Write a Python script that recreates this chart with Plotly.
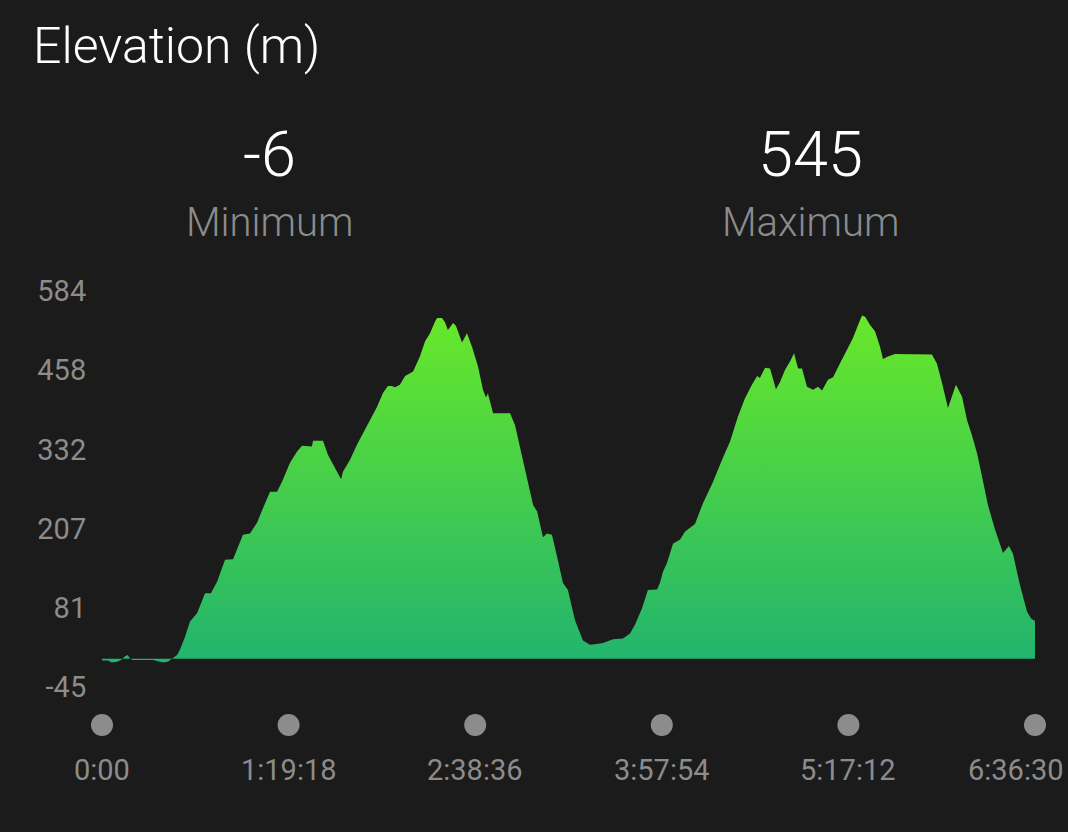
import plotly.graph_objects as go

# ---- data (elapsed time in minutes, elevation in metres) ----
time_min = [0.0, 2.5, 4.2, 6.4, 8.1, 9.8, 11.0, 11.9, 13.2, 21.7, 23.8, 25.9, 28.0, 29.7,
            31.9, 33.1, 35.3, 37.4, 40.4, 43.8, 46.3, 48.9, 52.3, 55.7, 57.4, 59.9, 62.9,
            65.9, 68.4, 71.4, 74.4, 76.5, 79.9, 82.9, 85.0, 89.2, 89.7, 93.9, 96.0, 99.9,
            101.6, 102.4, 105.4, 108.4, 112.6, 116.9, 119.4, 121.5, 123.2, 124.5, 126.6,
            128.8, 132.2, 135.1, 137.3, 139.4, 141.5, 142.4, 144.5, 145.8, 147.0, 149.2,
            150.4, 153.0, 155.1, 157.2, 159.8, 161.9, 163.2, 164.0, 166.2, 170.0, 173.4,
            175.5, 177.6, 180.6, 183.2, 184.9, 187.4, 189.1, 191.2, 193.4, 195.9, 198.0,
            201.0, 204.4, 207.4, 209.5, 212.9, 217.2, 221.4, 224.4, 226.5, 229.5, 232.0,
            235.9, 237.1, 238.4, 240.1, 242.7, 245.6, 247.8, 252.0, 255.4, 259.7, 263.5,
            266.9, 270.3, 273.3, 276.2, 278.4, 279.6, 281.8, 283.9, 286.4, 288.1, 290.3,
            292.4, 294.1, 295.8, 297.5, 299.6, 302.2, 304.3, 306.0, 308.5, 310.7, 313.6,
            316.6, 319.1, 321.3, 323.0, 324.3, 326.4, 328.5, 330.6, 331.9, 334.0, 337.0,
            343.4, 347.6, 352.7, 354.8, 357.0, 359.5, 362.9, 365.5, 367.6, 369.7, 371.9,
            374.0, 376.5, 379.5, 382.9, 385.4, 387.1, 390.1, 393.1, 394.8, 396.5]
elev_m = [-3, -3, -6, -5, -2, 4, 6, 0, -2, -2, -4, -6, -5, 0,
          6, 14, 35, 59, 72, 104, 104, 122, 157, 158, 173, 197, 199,
          216, 239, 265, 265, 281, 311, 329, 338, 337, 346, 346, 324, 297,
          285, 297, 316, 340, 369, 400, 422, 433, 433, 431, 435,
          449, 456, 480, 504, 517, 535, 541, 541, 534, 522, 533,
          529, 502, 517, 496, 464, 427, 415, 421, 390, 390, 390,
          371, 337, 289, 244, 234, 193, 199, 197, 162, 120, 109,
          61, 29, 22, 23, 25, 31, 32, 40, 54, 80, 109,
          110, 120, 138, 152, 183, 189, 202, 214, 247, 281, 316,
          345, 385, 414, 435, 449, 446, 462, 461, 428, 439, 459,
          472, 485, 461, 461, 432, 427, 432, 426, 443, 447, 469,
          491, 509, 530, 545, 543, 530, 520, 496, 476, 480, 484,
          484, 484, 483, 469, 438, 398, 435, 416, 379, 355, 326,
          289, 244, 205, 168, 179, 167, 117, 75, 64, 60]

y_ticks = [-45, 81, 207, 332, 458, 584]
x_tick_vals = [0, 79.3, 158.6, 237.9, 317.2, 396.5]
x_tick_text = ["0:00", "1:19:18", "2:38:36", "3:57:54", "5:17:12", "6:36:30"]
min_label, max_label = "-6", "545"

BG = "#1b1b1b"
GRAY = "#8c8c8c"
FONT = "Roboto"
W, H = 1068, 832

fig = go.Figure()
fig.add_trace(go.Scatter(
    x=time_min, y=elev_m, mode="lines", fill="tozeroy",
    line=dict(width=0, color="#3ccf55"),
    fillgradient=dict(type="vertical", start=0, stop=545,
                      colorscale=[[0, "#22b46e"], [1, "#68e829"]]),
    hoverinfo="skip", showlegend=False, xaxis="x", yaxis="y"))

fig.add_trace(go.Scatter(
    x=x_tick_vals, y=[0] * len(x_tick_vals), mode="markers",
    marker=dict(size=22, color=GRAY), hoverinfo="skip", showlegend=False,
    xaxis="x2", yaxis="y2", cliponaxis=False))

xdom = [102 / W, 1035 / W]
fig.update_layout(
    width=W, height=H, paper_bgcolor=BG, plot_bgcolor=BG,
    margin=dict(l=0, r=0, t=0, b=0, autoexpand=False),
    font=dict(family=FONT, color=GRAY),
    xaxis=dict(domain=xdom, range=[0, 396.5], showgrid=False, zeroline=False,
               showticklabels=False, showline=False, anchor="y", automargin=False),
    yaxis=dict(domain=[1 - 687 / H, 1 - 291 / H], range=[-45, 584],
               tickvals=y_ticks, ticktext=[str(v) for v in y_ticks],
               showgrid=False, zeroline=False, showline=False,
               ticks="outside", ticklen=9, tickcolor=BG, automargin=False,
               tickfont=dict(family=FONT, size=29, color=GRAY), anchor="x"),
    xaxis2=dict(domain=xdom, range=[0, 396.5], anchor="y2", automargin=False,
                showticklabels=False, showgrid=False, zeroline=False, showline=False),
    yaxis2=dict(domain=[1 - 745 / H, 1 - 705 / H], range=[-1, 1], visible=False,
                anchor="x2", automargin=False),
)

ann = []
ann.append(dict(text="Elevation (m)", x=31 / W, y=1 - 46 / H, xanchor="left",
                yanchor="middle", xref="paper", font=dict(family=FONT, size=50,
                                                          color="#ffffff", weight=300)))
for cx, val, lab in [(269, min_label, "Minimum"), (810, max_label, "Maximum")]:
    ann.append(dict(text=val, x=cx / W, y=1 - 155 / H, xanchor="center", xref="paper",
                    yanchor="middle", font=dict(family=FONT, size=63,
                                                color="#ffffff", weight=300)))
    ann.append(dict(text=lab, x=cx / W, y=1 - 222 / H, xanchor="center", xref="paper",
                    yanchor="middle", font=dict(family=FONT, size=40,
                                                color=GRAY, weight=300)))
n = len(x_tick_vals)
for i, (tv, tt) in enumerate(zip(x_tick_vals, x_tick_text)):
    last = i == n - 1
    ann.append(dict(text=tt, x=tv, xref="x2", y=1 - 770 / H, yanchor="middle",
                    xanchor="right" if last else "center", xshift=31 if last else 0,
                    font=dict(family=FONT, size=29, color=GRAY)))
for a in ann:
    a.update(yref="paper", showarrow=False)
fig.update_layout(annotations=ann)

fig.write_html("out.html", config={"displayModeBar": False},
               post_script="document.body.style.margin='0px';document.body.style.overflow='hidden';")
